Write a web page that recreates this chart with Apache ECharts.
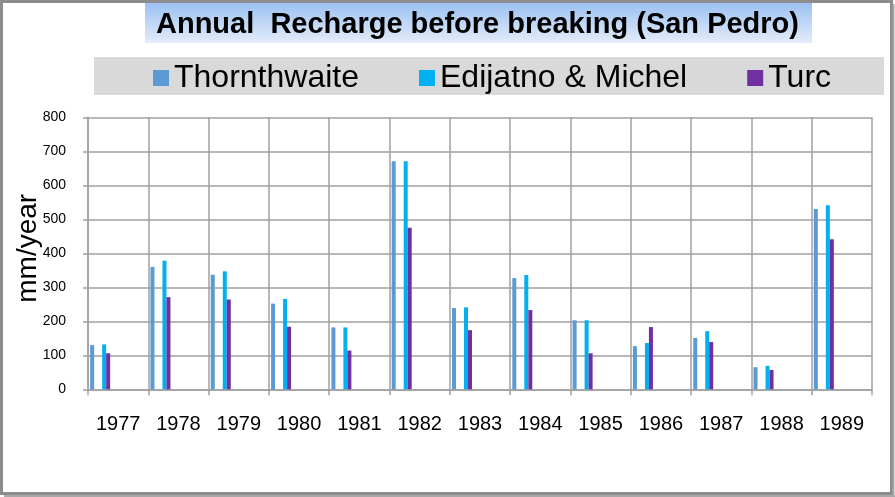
<!DOCTYPE html>
<html>
<head>
<meta charset="utf-8">
<script src="https://cdn.jsdelivr.net/npm/echarts@6/dist/echarts.min.js"></script>
<style>html,body{margin:0;padding:0;background:#fff;}#c{width:895px;height:497px;}</style>
</head>
<body>
<div id="c"></div>
<script>
var years = ['1977','1978','1979','1980','1981','1982','1983','1984','1985','1986','1987','1988','1989'];
var thornthwaite = [130, 360, 337, 252, 182, 671, 239, 327, 203, 127, 151, 65, 530];
var edijatno = [132, 378, 347, 266, 182, 671, 241, 336, 203, 136, 171, 69, 541];
var turc = [106, 271, 264, 184, 114, 475, 174, 233, 106, 183, 139, 57, 441];
var yTicks = {min: 0, max: 800, interval: 100};

var FONT = "'Liberation Sans', Arial, sans-serif";
var chart = echarts.init(document.getElementById('c'));
var grid = '#a0a0a0';
chart.setOption({
  animation: false,
  backgroundColor: '#fff',
  graphic: [
    {type: 'rect', z: -10, shape: {x: 145, y: 3, width: 667, height: 40},
     style: {fill: new echarts.graphic.LinearGradient(0, 0, 0, 1, [{offset: 0, color: '#9cc1f2'}, {offset: 1, color: '#e3ecfa'}])}},
    {type: 'rect', z: -10, shape: {x: 94, y: 57, width: 790, height: 38}, style: {fill: '#d9d9d9'}},
    {type: 'rect', z: -9, shape: {x: 1.5, y: 1.5, width: 890, height: 492}, style: {fill: null, stroke: '#8c8c8c', lineWidth: 3}},
    {type: 'line', z: -9, shape: {x1: 893.5, y1: 4, x2: 893.5, y2: 497}, style: {stroke: '#a8a8a8', lineWidth: 2}},
    {type: 'line', z: -9, shape: {x1: 4, y1: 496, x2: 895, y2: 496}, style: {stroke: '#a8a8a8', lineWidth: 2}}
  ],
  title: {
    text: 'Annual  Recharge before breaking (San Pedro)',
    left: 156, top: 10, padding: 0,
    textStyle: {fontFamily: FONT, fontSize: 29, fontWeight: 'bold', color: '#000'}
  },
  legend: {
    data: ['Thornthwaite', 'Edijatno & Michel', 'Turc'],
    left: 153, top: 62, padding: 0,
    itemWidth: 16, itemHeight: 16, itemGap: 60,
    icon: 'rect',
    textStyle: {fontFamily: FONT, fontSize: 32, color: '#000'}
  },
  grid: {left: 88, right: 23, top: 117.3, height: 272, containLabel: false, outerBoundsMode: 'none'},
  xAxis: {
    type: 'category', data: years,
    axisLine: {show: true, lineStyle: {color: grid, width: 1.5}},
    axisTick: {show: true, length: 6, lineStyle: {color: grid, width: 1.5}},
    splitLine: {show: true, lineStyle: {color: grid, width: 1.5}},
    axisLabel: {fontFamily: FONT, fontSize: 20, color: '#000', margin: 25, interval: 0}
  },
  yAxis: {
    type: 'value', min: yTicks.min, max: yTicks.max, interval: yTicks.interval,
    name: 'mm/year', nameLocation: 'middle', nameRotate: 90, nameGap: 46, nameMoveOverlap: false,
    nameTextStyle: {fontFamily: FONT, fontSize: 28, color: '#000', padding: [0, 0, 0, 10]},
    axisLine: {show: true, lineStyle: {color: grid, width: 1.5}},
    axisTick: {show: true, length: 5, lineStyle: {color: grid, width: 1.5}},
    splitLine: {show: true, lineStyle: {color: grid, width: 1.5}},
    axisLabel: {fontFamily: FONT, fontSize: 14, color: '#000', margin: 22}
  },
  series: [
    {name: 'Thornthwaite', type: 'bar', data: thornthwaite, barWidth: 4, barGap: '0%', itemStyle: {color: '#5b9bd5'}},
    {name: '_gap', type: 'bar', data: [], barWidth: 8, barGap: '0%'},
    {name: 'Edijatno & Michel', type: 'bar', data: edijatno, barWidth: 4, barGap: '0%', itemStyle: {color: '#00b0f0'}},
    {name: 'Turc', type: 'bar', data: turc, barWidth: 4, barGap: '0%', itemStyle: {color: '#7030a0'}},
    {name: '_tail', type: 'bar', data: [], barWidth: 36, barGap: '0%'}
  ]
});
</script>
</body>
</html>
